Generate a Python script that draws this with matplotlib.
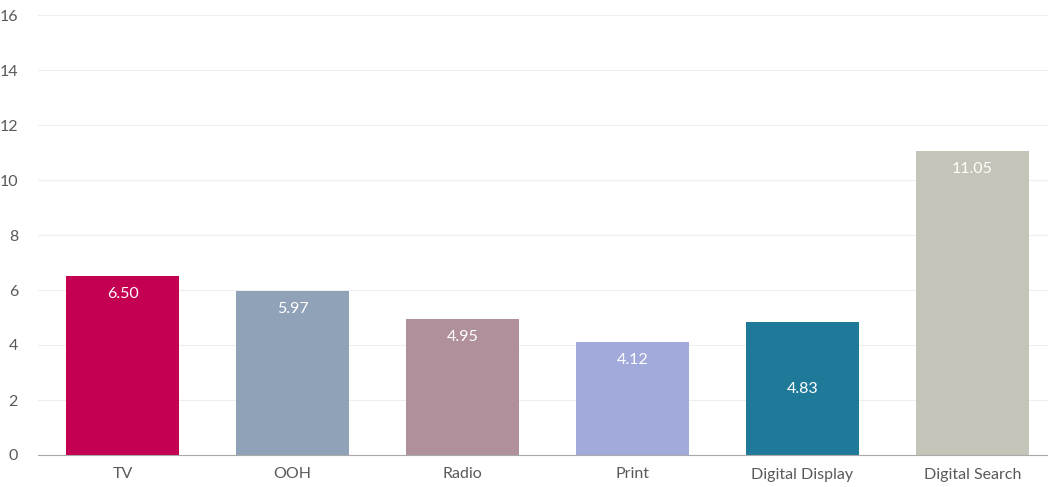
import matplotlib
matplotlib.use("Agg")
from matplotlib import pyplot as plt

# chart data
categories = ["TV", "OOH", "Radio", "Print", "Digital Display", "Digital Search"]
values = [6.50, 5.97, 4.95, 4.12, 4.83, 11.05]
colors = ["#C40052", "#8FA2B8", "#B0909A", "#A1AADB", "#1F7A99", "#C4C4B8"]
# where each value label sits in its bar
label_pos = ["top", "top", "top", "top", "center", "top"]
yticks = [0, 2, 4, 6, 8, 10, 12, 14, 16]

plt.rcParams["font.family"] = ["Lato", "DejaVu Sans"]

fig = plt.figure(figsize=(10.48, 4.87), dpi=100)
W, H = 1048, 487
ax = fig.add_axes([37.5 / W, (H - 455) / H, 1020 / W, 440 / H])

x = list(range(len(categories)))
bars = ax.bar(x, values, width=0.665, color=colors, zorder=3)

for xi, v, pos in zip(x, values, label_pos):
    if pos == "center":
        ax.annotate(f"{v:.2f}", (xi, v / 2), ha="center", va="center",
                    color="white", fontsize=11.5)
    else:
        ax.annotate(f"{v:.2f}", (xi, v), xytext=(0, -13), textcoords="offset points",
                    ha="center", va="center", color="white", fontsize=11.5)

ax.set_xlim(-0.5, len(categories) - 0.5)
ax.set_ylim(0, 16)
ax.set_yticks(yticks)
ax.set_xticks(x)
ax.set_xticklabels(categories)
ax.yaxis.grid(True, color="#EEEEEE", linewidth=0.8, zorder=0)
ax.tick_params(axis="both", length=0, colors="#595959", labelsize=11.5)
ax.tick_params(axis="x", pad=9)
ax.tick_params(axis="y", pad=14)
for side in ["top", "right", "left"]:
    ax.spines[side].set_visible(False)
ax.spines["bottom"].set_color("#AAAAAA")
ax.spines["bottom"].set_zorder(4)

fig.savefig("out.png", dpi=100)
